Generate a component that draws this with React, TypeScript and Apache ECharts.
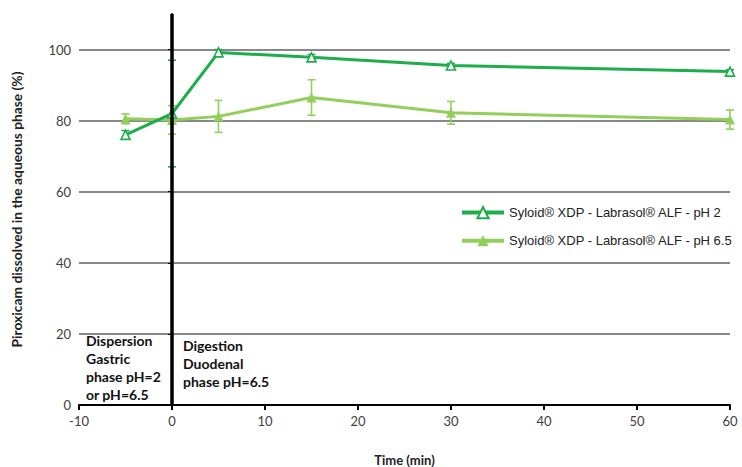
import React, { useEffect, useRef } from "react";
import * as echarts from "echarts";

const times = [-5, 0, 5, 15, 30, 60];
const ph2Values = [76, 82, 99.2, 97.8, 95.5, 93.8];
const ph2Errors = [1.2, 15, 0.8, 0.8, 0.6, 0.5];
const ph65Values = [80.5, 80.2, 81.2, 86.5, 82.2, 80.3];
const ph65Errors = [1.4, 4, 4.5, 5, 3.2, 2.7];
const yTicks = [0, 20, 40, 60, 80, 100];
const xTicks = [-10, 0, 10, 20, 30, 40, 50, 60];

const ph2Name = "Syloid® XDP - Labrasol® ALF - pH 2";
const ph65Name = "Syloid® XDP - Labrasol® ALF - pH 6.5";
const dark = "#1fad4c";
const light = "#93cf5c";

function errData(vals: number[], errs: number[]) {
  return times.map((t, i) => [t, vals[i] - errs[i], vals[i] + errs[i]]);
}

function errRender(color: string) {
  return (params: any, api: any) => {
    const x = api.value(0);
    const lo = api.coord([x, api.value(1)]);
    const hi = api.coord([x, api.value(2)]);
    const w = 4;
    const style = { stroke: color, lineWidth: 1.6, fill: "none" };
    return {
      type: "group",
      children: [
        { type: "line", shape: { x1: lo[0], y1: lo[1], x2: hi[0], y2: hi[1] }, style },
        { type: "line", shape: { x1: lo[0] - w, y1: lo[1], x2: lo[0] + w, y2: lo[1] }, style },
        { type: "line", shape: { x1: hi[0] - w, y1: hi[1], x2: hi[0] + w, y2: hi[1] }, style },
      ],
    };
  };
}

export default function App() {
  const ref = useRef<HTMLDivElement>(null);
  useEffect(() => {
    if (!ref.current) return;
    const chart = echarts.init(ref.current, null, { renderer: "svg" });
    const axisFont = { fontFamily: "Lato", fontSize: 13, color: "#404040" };
    chart.setOption({
      animation: false,
      backgroundColor: "#fff",
      grid: { left: 79, right: 12, top: 14, bottom: 62, outerBoundsMode: "none", containLabel: false },
      legend: {
        left: 455,
        top: 201,
        orient: "vertical",
        itemWidth: 42,
        itemHeight: 14,
        itemGap: 15,
        textStyle: { fontFamily: "Liberation Sans", fontSize: 13, color: "#222" },
        data: [
          { name: ph2Name, lineStyle: { width: 4 } },
          { name: ph65Name, lineStyle: { width: 4 } },
        ],
      },
      xAxis: {
        type: "value",
        min: -10,
        max: 60,
        interval: 10,
        name: "Time (min)",
        nameLocation: "middle",
        nameGap: 48,
        nameTextStyle: { fontFamily: "Lato", fontSize: 13, fontWeight: "bold", color: "#222" },
        axisLine: { onZero: false, lineStyle: { color: "#000", width: 2 } },
        axisTick: { show: true, length: 5, lineStyle: { color: "#000", width: 2 }, customValues: xTicks },
        axisLabel: { ...axisFont, margin: 9, customValues: xTicks },
        splitLine: { show: false },
      },
      yAxis: {
        type: "value",
        min: 0,
        max: 110,
        interval: 20,
        name: "Piroxicam dissolved in the aqueous phase (%)",
        nameLocation: "middle",
        nameGap: 56,
        nameTextStyle: { fontFamily: "Lato", fontSize: 13.8, fontWeight: "bold", color: "#222" },
        axisLine: { show: true, lineStyle: { color: "#000", width: 2 } },
        axisTick: { show: true, length: 4, lineStyle: { color: "#000", width: 1 }, customValues: yTicks },
        axisLabel: { ...axisFont, margin: 8, customValues: yTicks },
        splitLine: { show: true, lineStyle: { color: "#888", width: 2 } },
      },
      graphic: [
        {
          type: "text",
          left: 86,
          top: 332,
          style: {
            text: "Dispersion\nGastric\nphase pH=2\nor pH=6.5",
            fontFamily: "Lato",
            fontWeight: "bold",
            fontSize: 14,
            lineHeight: 17.8,
            fill: "#111",
          },
        },
        {
          type: "text",
          left: 183,
          top: 336,
          style: {
            text: "Digestion\nDuodenal\nphase pH=6.5",
            fontFamily: "Lato",
            fontWeight: "bold",
            fontSize: 14,
            lineHeight: 18,
            fill: "#111",
          },
        },
      ],
      series: [
        {
          name: ph65Name,
          type: "line",
          data: times.map((t, i) => [t, ph65Values[i]]),
          symbol: "triangle",
          symbolSize: 10,
          lineStyle: { color: light, width: 3 },
          itemStyle: { color: light },
          z: 3,
        },
        {
          name: ph2Name,
          type: "line",
          data: times.map((t, i) => [t, ph2Values[i]]),
          symbol: "triangle",
          symbolSize: 9,
          lineStyle: { color: dark, width: 3 },
          itemStyle: { color: "#fff", borderColor: dark, borderWidth: 1.6 },
          z: 4,
        },
        {
          type: "custom",
          name: "err65",
          data: errData(ph65Values, ph65Errors),
          renderItem: errRender(light),
          encode: { x: 0, y: [1, 2] },
          z: 3,
          silent: true,
        },
        {
          type: "custom",
          name: "err2",
          data: errData(ph2Values, ph2Errors),
          renderItem: errRender(dark),
          encode: { x: 0, y: [1, 2] },
          z: 4,
          silent: true,
        },
        {
          type: "line",
          name: "divider",
          data: [],
          z: 10,
          markLine: {
            silent: true,
            symbol: "none",
            label: { show: false },
            lineStyle: { color: "#000", width: 3.5, type: "solid" },
            data: [{ xAxis: 0 }],
          },
        },
      ],
    });
    return () => chart.dispose();
  }, []);
  return <div ref={ref} style={{ width: 742, height: 467, position: "absolute", left: 0, top: 0 }} />;
}
